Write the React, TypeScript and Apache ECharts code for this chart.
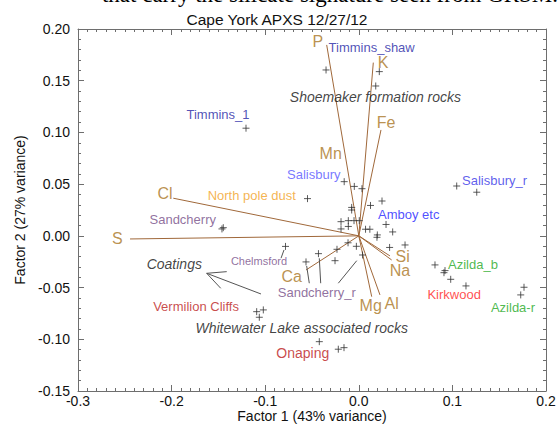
import React, { useEffect, useRef } from 'react';
import * as echarts from 'echarts';

// Observation scores (Factor 1, Factor 2)
const scorePoints: [number, number][] = [
  [-0.1205, 0.1041], [-0.0548, 0.0360], [-0.0350, 0.1604], [0.0219, 0.1588],
  [0.0181, 0.1449], [-0.0156, 0.0524], [-0.0048, 0.0478], [0.0034, 0.0456],
  [0.1046, 0.0482], [0.1260, 0.0422], [0.0125, 0.0294], [0.0248, 0.0337],
  [-0.0076, 0.0275], [-0.0076, 0.0250], [-0.0190, 0.0137], [-0.0112, 0.0147],
  [-0.0051, 0.0147], [0.0005, 0.0147], [0.0291, 0.0110], [-0.0190, 0.0067],
  [-0.0112, 0.0091], [0.0072, 0.0064], [0.0118, 0.0064], [0.0362, 0.0038],
  [0.0198, 0.0009], [0.0194, -0.0014], [0.0494, -0.0088], [0.0329, -0.0112],
  [-0.0115, -0.0067], [-0.0026, -0.0101], [-0.0233, -0.0130], [0.0040, -0.0185],
  [-0.0431, -0.0172], [-0.0254, -0.0240], [-0.0564, -0.0252], [-0.0783, -0.0102],
  [-0.1448, 0.0079], [-0.1462, 0.0067], [-0.1091, -0.0733], [-0.1020, -0.0716],
  [-0.1063, -0.0787], [-0.0422, -0.1023], [-0.0219, -0.1096], [-0.0158, -0.1081],
  [0.0814, -0.0281], [0.0921, -0.0336], [0.0910, -0.0356], [0.0982, -0.0420],
  [0.1145, -0.0484], [0.1765, -0.0497], [0.1730, -0.0571],
];

// Element loading vectors (end points, from origin)
const vectorNames = ['P', 'K', 'Fe', 'Cl', 'S', 'Si', 'Na', 'Mg', 'Al', 'Ca'];
const vectorX = [-0.0343, 0.0155, 0.0237, -0.1982, -0.2444, 0.0333, 0.0351, 0.0138, 0.0226, -0.0564];
const vectorY = [0.1846, 0.1675, 0.1024, 0.0364, -0.0030, -0.0194, -0.0233, -0.0588, -0.0571, -0.0330];

// Element label positions
const elementNames = ['P', 'K', 'Fe', 'Mn', 'Cl', 'S', 'Si', 'Na', 'Mg', 'Al', 'Ca'];
const elementLabelX = [-0.0439, 0.0259, 0.0291, -0.0300, -0.2071, -0.2580, 0.0469, 0.0440, 0.0127, 0.0351, -0.0717];
const elementLabelY = [0.1879, 0.1672, 0.1094, 0.0792, 0.0412, -0.0030, -0.0201, -0.0335, -0.0678, -0.0652, -0.0394];

// Sample group labels
const groupNames = [
  'Timmins_shaw', 'Timmins_1', 'Shoemaker formation rocks', 'Salisbury', 'Salisbury_r',
  'North pole dust', 'Sandcherry', 'Amboy etc', 'Chelmsford', 'Coatings', 'Sandcherry_r',
  'Vermilion Cliffs', 'Whitewater Lake associated rocks', 'Onaping', 'Azilda_b', 'Kirkwood', 'Azilda-r',
];
const groupLabelX = [0.0137, -0.1504, 0.0178, -0.0481, 0.1450, -0.1144, -0.1881, 0.0533, -0.1066, -0.1971, -0.0449, -0.1739, -0.0610, -0.0598, 0.1220, 0.1019, 0.1647];
const groupLabelY = [0.1824, 0.1176, 0.1340, 0.0589, 0.0540, 0.0389, 0.0154, 0.0202, -0.0240, -0.0272, -0.0549, -0.0685, -0.0888, -0.1135, -0.0281, -0.0565, -0.0690];
const groupColors = [
  '#2525a5', '#2525a5', '#111111', '#5555ff', '#3535e8', '#f2a125', '#744c86', '#2222ff',
  '#744c86', '#111111', '#744c86', '#bb1a1a', '#111111', '#bb1a1a', '#22a722', '#ff2424', '#22a722',
];
const groupFontSizes = [13, 13, 14, 13, 13, 13, 13, 13, 11, 14, 13, 13, 14, 14, 13, 13, 13];
const groupItalic = [false, false, true, false, false, false, false, false, false, true, false, false, true, false, false, false, false];

// Leader lines and the Coatings arrow
const leaderStart: [number, number][] = [
  [-0.0831, -0.0216], [-0.0529, -0.0458], [-0.0407, -0.0458], [-0.0219, -0.0458],
  [-0.1045, -0.0562], [-0.1625, -0.0362], [-0.1625, -0.0362],
];
const leaderEnd: [number, number][] = [
  [-0.0799, -0.0136], [-0.0557, -0.0291], [-0.0422, -0.0217], [-0.0022, -0.0240],
  [-0.1625, -0.0362], [-0.1411, -0.0346], [-0.1475, -0.0507],
];

const FONT = '"Liberation Sans", Arial, Helvetica, sans-serif';
const AXIS_COLOR = '#6e6e6e';

export default function App() {
  const ref = useRef<HTMLDivElement>(null);
  useEffect(() => {
    document.body.style.margin = '0';
    if (!ref.current) return;
    const chart = echarts.init(ref.current, undefined, { renderer: 'svg' });

    const axisCommon = {
      type: 'value' as const,
      axisLine: { show: true, onZero: false, lineStyle: { color: AXIS_COLOR, width: 1 } },
      axisTick: { show: true, inside: true, length: 6, lineStyle: { color: AXIS_COLOR } },
      splitLine: { show: false },
    };

    const option: any = {
      animation: false,
      backgroundColor: '#ffffff',
      textStyle: { fontFamily: FONT },
      grid: { left: 78, right: 14, top: 29, bottom: 35, outerBoundsMode: 'none' },
      graphic: [
        {
          type: 'text', x: 558, y: -6, silent: true,
          style: {
            text: 'that carry the silicate signature seen from GRSM.',
            font: '23px "Liberation Serif", "Times New Roman", serif',
            fill: '#000', align: 'right', verticalAlign: 'middle',
          },
        },
        {
          type: 'text', x: 277, y: 19, silent: true,
          style: {
            text: 'Cape York APXS 12/27/12',
            font: '15.5px ' + FONT, fill: '#111', align: 'center', verticalAlign: 'middle',
          },
        },
      ],
      xAxis: [
        {
          ...axisCommon,
          position: 'bottom',
          min: -0.3, max: 0.2, interval: 0.1,
          minorTick: { show: true, splitNumber: 10, length: 3, lineStyle: { color: AXIS_COLOR } },
          axisLabel: {
            show: true, margin: 3, fontSize: 14, color: '#111', fontFamily: FONT,
            formatter: (v: number) => v.toFixed(1),
          },
          name: 'Factor 1 (43% variance)', nameLocation: 'middle', nameGap: 18,
          nameMoveOverlap: false,
          nameTextStyle: { fontSize: 14, color: '#111', fontFamily: FONT },
        },
        {
          ...axisCommon,
          position: 'top',
          min: -0.3, max: 0.2, interval: 0.1,
          minorTick: { show: true, splitNumber: 10, length: 3, lineStyle: { color: AXIS_COLOR } },
          axisLabel: { show: false },
        },
      ],
      yAxis: [
        {
          ...axisCommon,
          position: 'left',
          min: -0.15, max: 0.2, interval: 0.05,
          minorTick: { show: true, splitNumber: 5, length: 3, lineStyle: { color: AXIS_COLOR } },
          axisLabel: {
            show: true, margin: 8, fontSize: 14, color: '#111', fontFamily: FONT,
            formatter: (v: number) => v.toFixed(2),
          },
          name: 'Factor 2 (27% variance)', nameLocation: 'middle', nameGap: 51,
          nameMoveOverlap: false,
          nameTextStyle: { fontSize: 14, color: '#111', fontFamily: FONT },
        },
        {
          ...axisCommon,
          position: 'right',
          min: -0.15, max: 0.2, interval: 0.05,
          minorTick: { show: true, splitNumber: 5, length: 3, lineStyle: { color: AXIS_COLOR } },
          axisLabel: { show: false },
        },
      ],
      series: [
        {
          type: 'lines', coordinateSystem: 'cartesian2d', silent: true,
          lineStyle: { color: '#a0683a', width: 1, opacity: 1 },
          data: vectorNames.map((n, i) => ({ name: n, coords: [[0, 0], [vectorX[i], vectorY[i]]] })),
        },
        {
          type: 'lines', coordinateSystem: 'cartesian2d', silent: true,
          lineStyle: { color: '#555555', width: 1, opacity: 1 },
          data: leaderStart.map((s, i) => ({ coords: [s, leaderEnd[i]] })),
        },
        {
          type: 'scatter', silent: true,
          symbol: 'path://M0,4L8,4M4,0L4,8', symbolSize: 7,
          itemStyle: { color: 'transparent', borderColor: '#333333', borderWidth: 1 },
          data: scorePoints,
        },
        {
          type: 'scatter', silent: true, symbolSize: 1,
          itemStyle: { color: 'transparent' },
          label: { show: true, position: 'inside', fontFamily: FONT, fontSize: 16, color: '#a97624' },
          data: elementNames.map((n, i) => ({
            value: [elementLabelX[i], elementLabelY[i]],
            label: { formatter: n },
          })),
        },
        {
          type: 'scatter', silent: true, symbolSize: 1,
          itemStyle: { color: 'transparent' },
          label: { show: true, position: 'inside', fontFamily: FONT },
          data: groupNames.map((n, i) => ({
            value: [groupLabelX[i], groupLabelY[i]],
            label: {
              formatter: n,
              color: groupColors[i],
              fontSize: groupFontSizes[i],
              fontStyle: groupItalic[i] ? 'italic' : 'normal',
            },
          })),
        },
      ],
    };
    chart.setOption(option);
    return () => chart.dispose();
  }, []);
  return <div ref={ref} style={{ width: 560, height: 426 }} />;
}
